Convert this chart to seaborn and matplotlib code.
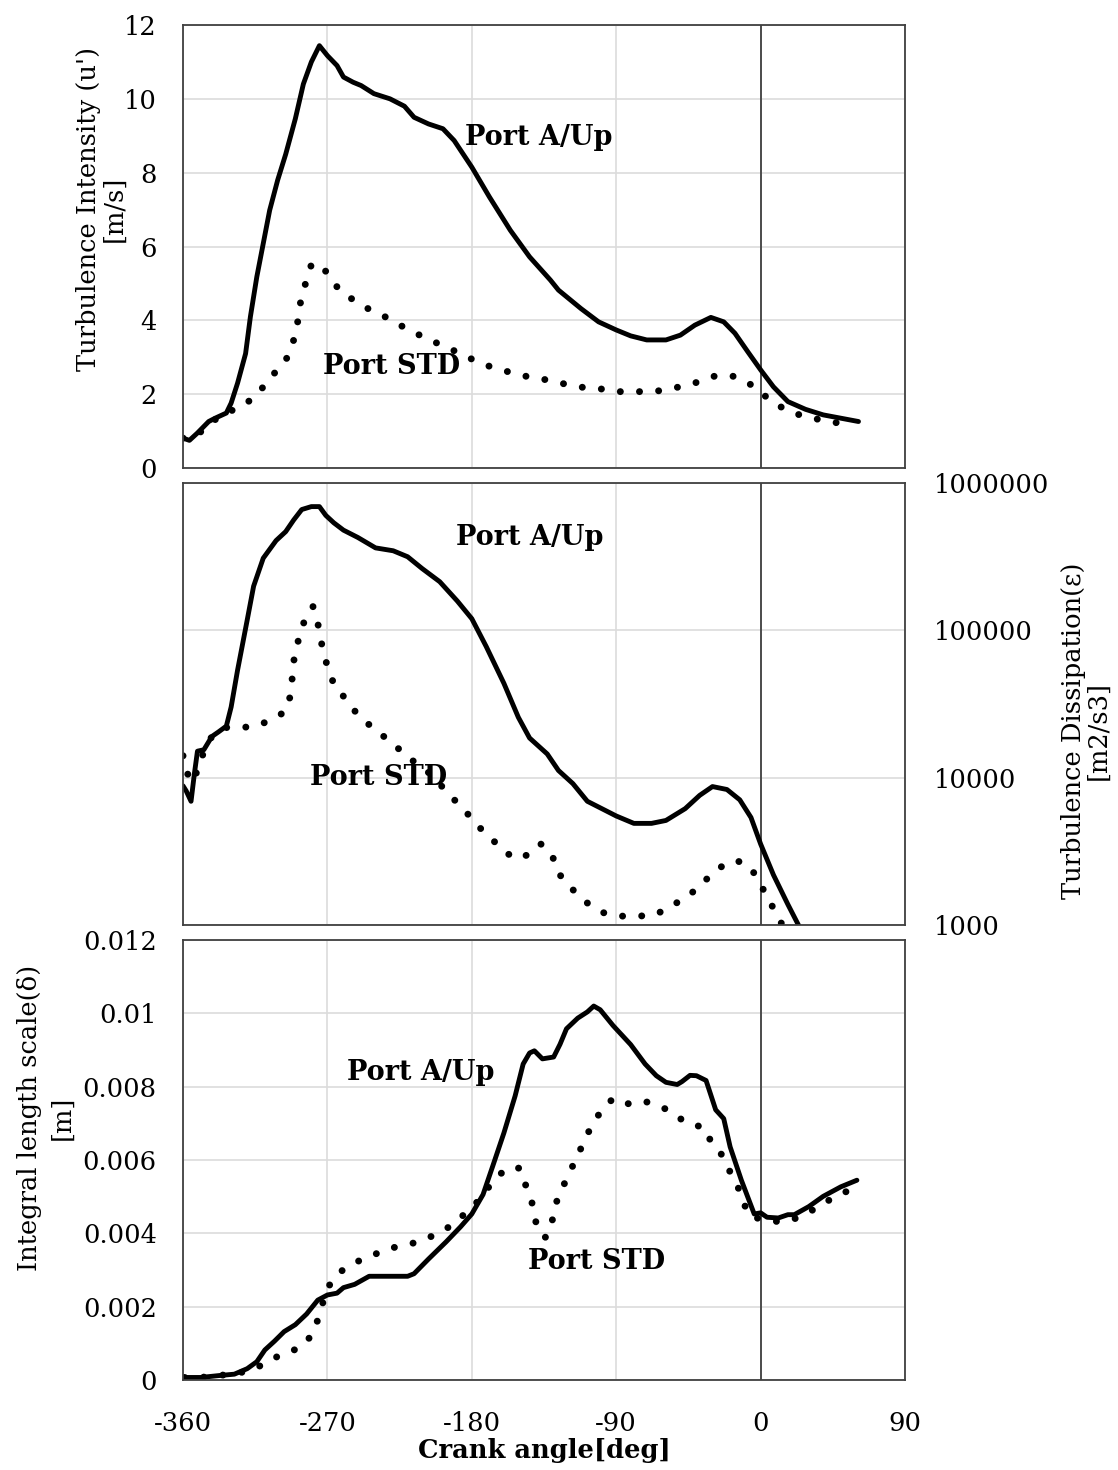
import numpy as np
import pandas as pd
import matplotlib
matplotlib.use("Agg")
import matplotlib.pyplot as plt
import seaborn as sns

# ---------------- data ----------------
# Turbulence intensity u' [m/s]
ui_up_deg = [-360, -356, -351, -344, -340, -333, -330, -326, -321, -318, -314, -310, -306, -301,
             -296, -290, -285, -280, -275, -270, -264, -260, -254, -249, -241, -231, -222, -216,
             -207, -198, -191, -180, -169, -156, -144, -131, -126, -112, -101, -90, -81, -71,
             -59, -50, -41, -31, -23, -16, -8, 0, 8, 17, 28, 39, 50, 61]
ui_up_val = [0.81, 0.75, 0.95, 1.26, 1.35, 1.49, 1.76, 2.3, 3.1, 4.1, 5.18, 6.08, 6.98, 7.8,
             8.5, 9.46, 10.4, 11.0, 11.44, 11.17, 10.9, 10.59, 10.45, 10.36, 10.14, 10.0, 9.8, 9.5,
             9.32, 9.19, 8.87, 8.15, 7.34, 6.44, 5.72, 5.09, 4.82, 4.32, 3.96, 3.74, 3.58, 3.47,
             3.47, 3.6, 3.87, 4.08, 3.96, 3.65, 3.15, 2.66, 2.2, 1.8, 1.59, 1.44, 1.35, 1.26]
ui_std_deg = [-360, -351, -342, -333, -325, -316, -309, -303, -296, -292, -289, -288, -286, -283,
              -280, -274, -268, -262, -253, -244, -235, -226, -217, -207, -198, -189, -180, -170,
              -160, -150, -140, -130, -120, -110, -99, -89, -78, -68, -58, -48, -38, -28, -18,
              -8, 0, 8, 17, 27, 37, 47, 58]
ui_std_val = [0.81, 0.9, 1.26, 1.49, 1.65, 1.89, 2.25, 2.57, 2.91, 3.33, 3.76, 4.2, 4.66, 5.09,
              5.51, 5.51, 5.14, 4.79, 4.53, 4.3, 4.12, 3.9, 3.69, 3.49, 3.31, 3.14, 2.95, 2.77,
              2.64, 2.52, 2.43, 2.37, 2.25, 2.18, 2.14, 2.07, 2.07, 2.07, 2.12, 2.23, 2.34, 2.5, 2.5,
              2.32, 2.05, 1.77, 1.55, 1.4, 1.31, 1.23, 1.15]

# Turbulence dissipation epsilon [m2/s3]
eps_up_deg = [-360, -358, -355, -353, -351, -347, -342, -338, -333, -330, -326, -320, -316, -310,
              -302, -296, -291, -286, -280, -275, -271, -266, -260, -251, -240, -229, -220, -211,
              -200, -189, -180, -171, -160, -151, -144, -133, -126, -117, -108, -99, -90, -79, -68,
              -59, -47, -38, -30, -21, -13, -6, 0, 8, 17, 24]
eps_up_val = [8810, 8130, 6920, 10470, 15140, 15490, 19050, 20420, 22390, 30200, 53700, 117500,
              199500, 309000, 407000, 468000, 562000, 661000, 692000, 692000, 603000, 537000,
              479000, 427000, 363000, 347000, 316000, 263000, 214000, 158000, 120000, 77600,
              43700, 25700, 18600, 14500, 11200, 9120, 6920, 6170, 5500, 4900, 4900, 5130, 6170,
              7590, 8710, 8320, 7080, 5370, 3550, 2190, 1380, 980]
eps_std_deg = [-360, -358, -354, -350, -347, -342, -334, -324, -314, -304, -296, -293, -292, -291,
               -289, -286, -283, -279, -276, -274, -272, -269, -265, -258, -252, -244, -236, -228,
               -220, -212, -204, -197, -190, -183, -176, -168, -161, -153, -144, -137, -130, -127,
               -121, -113, -106, -97, -86, -76, -66, -57, -48, -39, -32, -24, -15, -6, -1, 4, 9, 14]
eps_std_val = [14100, 11000, 9330, 12000, 15100, 19100, 21900, 21900, 22400, 25100, 28200, 36300,
               46800, 61700, 79400, 102000, 129000, 145000, 112000, 85100, 67600, 52500, 40700,
               33900, 27500, 22900, 19500, 16600, 13800, 12000, 10200, 8320, 6920, 5750, 4680,
               3890, 3240, 2820, 3020, 3550, 3020, 2340, 1910, 1580, 1350, 1200, 1150, 1150, 1170,
               1320, 1510, 1780, 2140, 2510, 2750, 2450, 1950, 1580, 1230, 980]

# Integral length scale delta [m]
ls_up_deg = [-360, -349, -338, -328, -320, -314, -309, -303, -297, -290, -283, -276, -270, -264,
             -260, -253, -244, -233, -220, -216, -207, -196, -187, -180, -173, -167, -160, -153,
             -148, -144, -141, -136, -129, -125, -121, -114, -108, -104, -100, -92, -81, -72, -65,
             -59, -52, -49, -44, -40, -34, -28, -23, -19, -12, -4, 0, 4, 11, 17, 21, 30, 39, 50, 60]
ls_up_val = [0.00007, 0.00007, 0.00012, 0.00016, 0.00031, 0.0005, 0.00082, 0.00106, 0.00132,
             0.00151, 0.0018, 0.00218, 0.00232, 0.00237, 0.00252, 0.00261, 0.00283, 0.00283,
             0.00283, 0.0029, 0.0033, 0.00377, 0.00418, 0.00453, 0.00506, 0.00583, 0.00674,
             0.00775, 0.00862, 0.00892, 0.00898, 0.00876, 0.00881, 0.00916, 0.00958, 0.00987,
             0.01004, 0.0102, 0.0101, 0.00967, 0.00915, 0.00862, 0.0083, 0.00812, 0.00806,
             0.00814, 0.00831, 0.0083, 0.00817, 0.00737, 0.00713, 0.00636, 0.00545, 0.00453,
             0.00456, 0.00444, 0.00442, 0.00451, 0.00451, 0.00473, 0.00501, 0.00527, 0.00545]
ls_std_deg = [-359, -349, -339, -329, -318, -309, -300, -292, -284, -278, -275, -272, -268, -261,
              -252, -243, -233, -223, -213, -203, -194, -186, -178, -172, -166, -158, -150, -147,
              -143, -141, -139, -134, -130, -128, -124, -119, -115, -110, -106, -100, -92, -82,
              -73, -63, -55, -46, -35, -30, -23, -19, -14, -11, -6, 2, 12, 22, 31, 40, 49, 59]
ls_std_val = [0.00007, 0.00007, 0.00012, 0.00016, 0.00026, 0.00045, 0.00067, 0.00079, 0.00098,
              0.00136, 0.0018, 0.00223, 0.00266, 0.00298, 0.00322, 0.00338, 0.00357, 0.00367,
              0.00377, 0.00396, 0.00418, 0.00447, 0.00479, 0.00511, 0.00547, 0.00578, 0.00578,
              0.00538, 0.00494, 0.00451, 0.00408, 0.00389, 0.00432, 0.00477, 0.00521, 0.00564,
              0.00607, 0.00648, 0.00689, 0.0073, 0.00768, 0.00753, 0.00761, 0.00748, 0.00729,
              0.007, 0.00689, 0.00641, 0.00609, 0.00567, 0.00525, 0.00485, 0.00444, 0.00439,
              0.00431, 0.00441, 0.0046, 0.00484, 0.00506, 0.00524]

x_ticks = [-360, -270, -180, -90, 0, 90]
ui_ticks = [0, 2, 4, 6, 8, 10, 12]
eps_ticks = [1000, 10000, 100000, 1000000]
ls_ticks = [0, 0.002, 0.004, 0.006, 0.008, 0.01, 0.012]
ls_tick_labels = ["0", "0.002", "0.004", "0.006", "0.008", "0.01", "0.012"]

# ---------------- style ----------------
sns.set_theme(style="white")
plt.rcParams["font.family"] = ["DejaVu Serif"]
plt.rcParams["axes.unicode_minus"] = False
plt.rcParams["text.color"] = "black"
plt.rcParams["axes.labelcolor"] = "black"
plt.rcParams["xtick.color"] = "black"
plt.rcParams["ytick.color"] = "black"

GRID = "#dcdcdc"
SPINE = "#404040"
TICK_FS = 18.5
LABEL_FS = 18.5
NOTE_FS = 19.5

solid_kw = dict(color="black", lw=3.5, solid_joinstyle="round", solid_capstyle="round")
dot_kw = dict(color="black", lw=5.0, linestyle=(0, (0.01, 2.75)), dash_capstyle="round")

fig = plt.figure(figsize=(11.18, 14.70), dpi=100)
L, W = 0.1637, 0.6458
ax1 = fig.add_axes([L, 0.6816, W, 0.3014])
ax2 = fig.add_axes([L, 0.3707, W, 0.3007])
ax3 = fig.add_axes([L, 0.0612, W, 0.2993])


def frame(ax):
    ax.set_xlim(-360, 90)
    ax.set_xticks(x_ticks)
    ax.grid(True, color=GRID, lw=1.2)
    ax.axvline(0, color=SPINE, lw=1.3, zorder=1.5)
    for s in ax.spines.values():
        s.set_color(SPINE)
        s.set_linewidth(1.3)
    ax.tick_params(length=0, labelsize=TICK_FS)
    ax.set_axisbelow(True)


# ---- panel 1: turbulence intensity ----
sns.lineplot(x=ui_up_deg, y=ui_up_val, ax=ax1, sort=False, estimator=None, **solid_kw)
sns.lineplot(x=ui_std_deg, y=ui_std_val, ax=ax1, sort=False, estimator=None, **dot_kw)
frame(ax1)
ax1.set_ylim(0, 12)
ax1.set_yticks(ui_ticks)
ax1.set_yticklabels([str(t) for t in ui_ticks])
ax1.tick_params(axis="y", pad=19)
ax1.set_xticklabels([])
ax1.set_ylabel("Turbulence Intensity (u')\n[m/s]", fontsize=LABEL_FS,
               ha="center", va="center", linespacing=1.0)
ax1.yaxis.set_label_coords(-0.113, 0.585)
ax1.text(-184, 8.94, "Port A/Up", fontsize=NOTE_FS, fontweight="bold", ha="left", va="center")
ax1.text(-273, 2.74, "Port STD", fontsize=NOTE_FS, fontweight="bold", ha="left", va="center")

# ---- panel 2: turbulence dissipation (log scale, right axis) ----
sns.lineplot(x=eps_up_deg, y=eps_up_val, ax=ax2, sort=False, estimator=None, **solid_kw)
sns.lineplot(x=eps_std_deg, y=eps_std_val, ax=ax2, sort=False, estimator=None, **dot_kw)
ax2.set_yscale("log")
frame(ax2)
ax2.set_ylim(1000, 1000000)
ax2.set_yticks(eps_ticks)
ax2.set_yticklabels([str(t) for t in eps_ticks])
ax2.yaxis.set_minor_locator(matplotlib.ticker.NullLocator())
ax2.yaxis.tick_right()
ax2.yaxis.set_label_position("right")
ax2.tick_params(axis="y", pad=21)
ax2.set_xticklabels([])
ax2.set_ylabel("Turbulence Dissipation(\u03b5)\n[m2/s3]", fontsize=LABEL_FS,
               ha="center", va="center", rotation=90, linespacing=1.0)
ax2.yaxis.set_label_coords(1.25, 0.44)
ax2.text(-190, 4.24e5, "Port A/Up", fontsize=NOTE_FS, fontweight="bold", ha="left", va="center")
ax2.text(-281, 1.0e4, "Port STD", fontsize=NOTE_FS, fontweight="bold", ha="left", va="center")

# ---- panel 3: integral length scale ----
sns.lineplot(x=ls_up_deg, y=ls_up_val, ax=ax3, sort=False, estimator=None, **solid_kw)
sns.lineplot(x=ls_std_deg, y=ls_std_val, ax=ax3, sort=False, estimator=None, **dot_kw)
frame(ax3)
ax3.set_ylim(0, 0.012)
ax3.set_yticks(ls_ticks)
ax3.set_yticklabels(ls_tick_labels)
ax3.tick_params(axis="y", pad=19)
ax3.tick_params(axis="x", pad=22)
ax3.set_xticklabels([str(t) for t in x_ticks])
ax3.set_ylabel("Integral length scale(\u03b4)\n[m]", fontsize=LABEL_FS,
               ha="center", va="center", linespacing=1.35)
ax3.yaxis.set_label_coords(-0.19, 0.595)
ax3.set_xlabel("Crank angle[deg]", fontsize=LABEL_FS, fontweight="bold", labelpad=2)
ax3.text(-258, 0.0084, "Port A/Up", fontsize=NOTE_FS, fontweight="bold", ha="left", va="center")
ax3.text(-145, 0.00322, "Port STD", fontsize=NOTE_FS, fontweight="bold", ha="left", va="center")

fig.savefig("out.png", dpi=100, facecolor="white")
